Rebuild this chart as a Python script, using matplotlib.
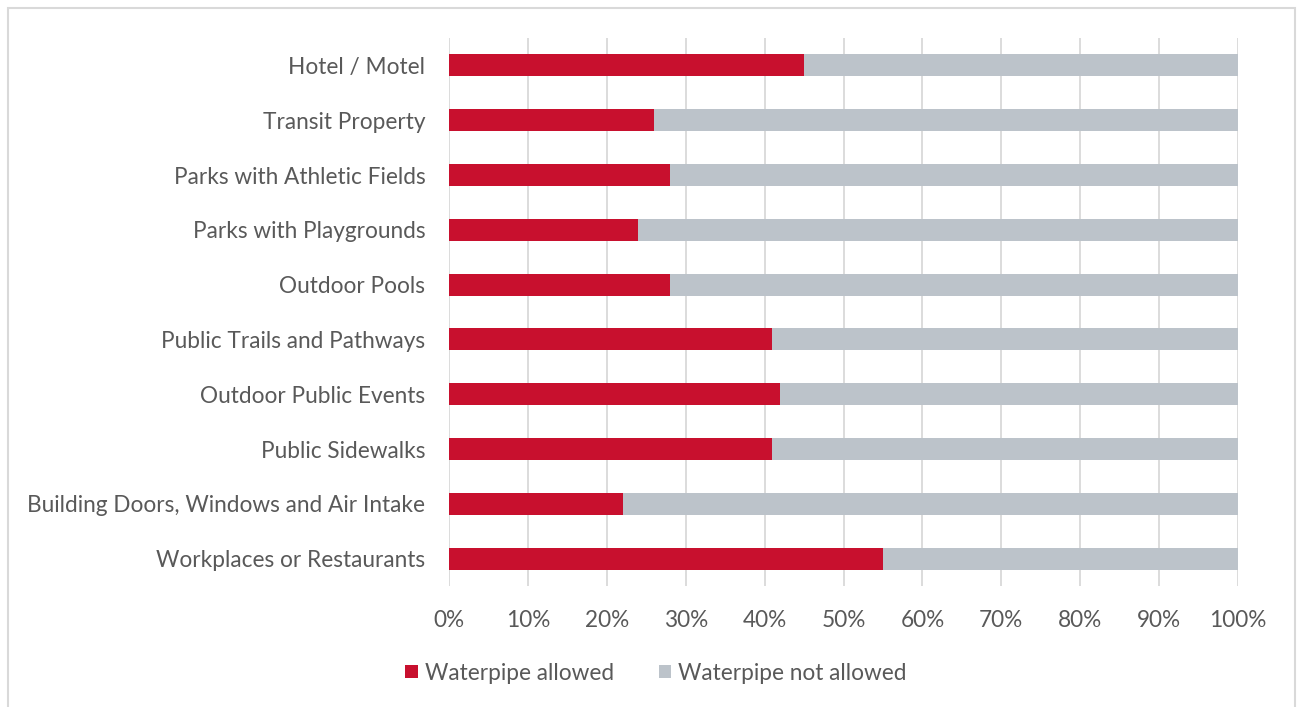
import matplotlib.pyplot as plt
from matplotlib.patches import Rectangle
import numpy as np

categories = ["Hotel / Motel", "Transit Property", "Parks with Athletic Fields",
              "Parks with Playgrounds", "Outdoor Pools", "Public Trails and Pathways",
              "Outdoor Public Events", "Public Sidewalks",
              "Building Doors, Windows and Air Intake", "Workplaces or Restaurants"]
allowed = [45, 26, 28, 24, 28, 41, 42, 41, 22, 55]
not_allowed = [100 - a for a in allowed]

red = "#C8102E"
grey = "#BCC3CA"
txt = "#595959"

plt.rcParams['font.family'] = ['Lato', 'DejaVu Sans']

fig = plt.figure(figsize=(13, 7.07), dpi=100)
ax = fig.add_axes([449/1300, 1-586/707, (1238-449)/1300, (586-38)/707])

y = np.arange(len(categories))[::-1]
ax.barh(y, allowed, height=0.4, color=red, label="Waterpipe allowed", zorder=3)
ax.barh(y, not_allowed, left=allowed, height=0.4, color=grey,
        label="Waterpipe not allowed", zorder=3)

ax.set_xlim(0, 100)
ax.set_ylim(-0.5, len(categories) - 0.5)
ax.set_yticks(y)
ax.set_yticklabels(categories)
ax.set_xticks(np.arange(0, 101, 10))
ax.set_xticklabels([f"{v}%" for v in range(0, 101, 10)])
ax.tick_params(axis='both', length=0, labelsize=16.3, colors=txt)
ax.tick_params(axis='y', pad=17)
ax.tick_params(axis='x', pad=17)
ax.grid(axis='x', color="#D9D9D9", linewidth=1.3, zorder=0)
for s in ax.spines.values():
    s.set_visible(False)

leg = fig.legend(loc='center', bbox_to_anchor=(656/1300, 1-673/707), ncol=2,
                 frameon=False, fontsize=16.3, handlelength=0.55, handleheight=0.55,
                 handletextpad=0.3, columnspacing=2.0)
for t in leg.get_texts():
    t.set_color(txt)

fig.patches.append(Rectangle((8/1300, -0.01), (1295-8)/1300, 1.01-8/707,
                             transform=fig.transFigure, fill=False,
                             edgecolor="#D9D9D9", linewidth=1.5))

fig.savefig("out.png", dpi=100)
